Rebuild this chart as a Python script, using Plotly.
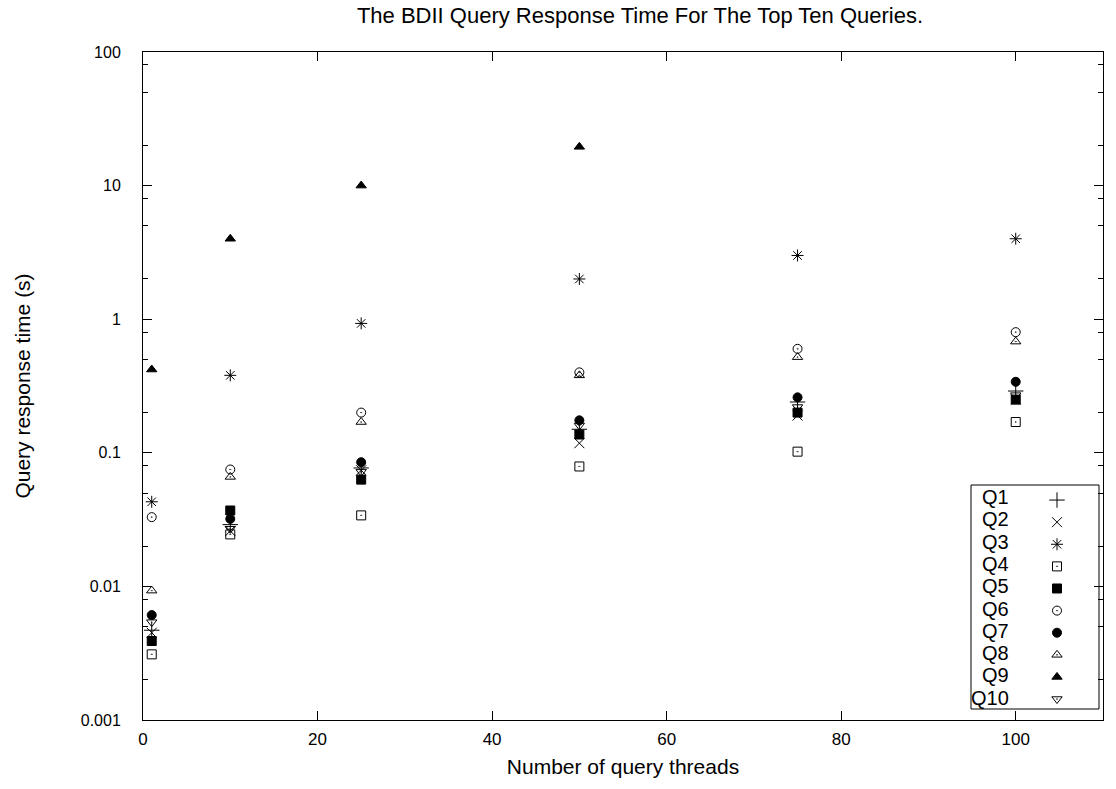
import plotly.graph_objects as go

threads = [1, 10, 25, 50, 75, 100]
q_names = ["Q1", "Q2", "Q3", "Q4", "Q5", "Q6", "Q7", "Q8", "Q9", "Q10"]
Q1 = [0.0047, 0.029, 0.077, 0.15, 0.24, 0.29]
Q2 = [0.0045, 0.026, 0.074, 0.118, 0.19, 0.25]
Q3 = [0.043, 0.38, 0.93, 2.0, 3.0, 4.0]
Q4 = [0.0031, 0.0245, 0.034, 0.079, 0.102, 0.17]
Q5 = [0.0039, 0.037, 0.063, 0.137, 0.2, 0.25]
Q6 = [0.033, 0.075, 0.2, 0.40, 0.6, 0.8]
Q7 = [0.0061, 0.032, 0.085, 0.175, 0.26, 0.34]
Q8 = [0.0093, 0.066, 0.17, 0.38, 0.52, 0.68]
Q9 = [0.42, 4.0, 10.0, 19.5, None, None]
Q10 = [0.0054, 0.027, 0.072, 0.16, 0.22, 0.27]
series = [Q1, Q2, Q3, Q4, Q5, Q6, Q7, Q8, Q9, Q10]

symbols = ["cross-thin-open", "x-thin-open", "asterisk-open", "square-open-dot",
           "square", "circle-open-dot", "circle", "triangle-up-open-dot",
           "triangle-up", "triangle-down-open-dot"]
sizes = [11, 10, 10, 9, 9, 9, 9, 9, 9, 9]

ytick_vals = [0.001, 0.01, 0.1, 1, 10, 100]
ytick_text = ["0.001", "0.01", "0.1", "1", "10", "100"]
xtick_vals = [0, 20, 40, 60, 80, 100]
minor_y = [m * 10.0 ** e for e in range(-3, 2) for m in (2, 5, 8)]

FONT = "Liberation Sans"
fig = go.Figure()
for name, vals, sym, sz in zip(q_names, series, symbols, sizes):
    fig.add_trace(go.Scatter(
        x=threads, y=vals, mode="markers", name=" ",
        hovertemplate=name + ": %{x}, %{y}<extra></extra>",
        marker=dict(symbol=sym, size=sz, color="black",
                    line=dict(color="black", width=1)),
    ))

# legend labels (text to the left of symbols, like the original)
L, R, T, B = 143, 1103, 52, 720
W, H = R - L, B - T
annos = []
for i, name in enumerate(q_names):
    ypix = 497 + i * 22.3
    annos.append(dict(text=name, xref="paper", yref="paper",
                      x=(1011 - L) / W, y=(B - ypix) / H,
                      xanchor="right", yanchor="middle", showarrow=False,
                      font=dict(family=FONT, size=20, color="black")))

fig.update_layout(
    width=1116, height=789,
    margin=dict(l=L, r=1116 - R, t=T, b=789 - B),
    paper_bgcolor="white", plot_bgcolor="white",
    font=dict(family=FONT, size=20, color="black"),
    title=dict(text="The BDII Query Response Time For The Top Ten Queries.",
               x=640 / 1116, xanchor="center", y=1 - 15 / 789, yanchor="middle",
               font=dict(family=FONT, size=22, color="black")),
    xaxis=dict(range=[0, 110], tickvals=xtick_vals, ticks="inside", ticklen=9,
               tickcolor="black", showline=True, linecolor="black", linewidth=1,
               mirror="ticks", showgrid=False, zeroline=False, ticklabelstandoff=4,
               tickfont=dict(family=FONT, size=17),
               title=dict(text="Number of query threads", standoff=10,
                          font=dict(family=FONT, size=21))),
    yaxis=dict(type="log", range=[-3, 2], tickvals=ytick_vals, ticktext=ytick_text,
               ticks="inside", ticklen=9, tickcolor="black", showline=True,
               linecolor="black", linewidth=1, mirror="ticks", showgrid=False,
               zeroline=False, ticklabelstandoff=18,
               tickfont=dict(family=FONT, size=16),
               minor=dict(tickvals=minor_y, ticks="inside", ticklen=5,
                          tickcolor="black", showgrid=False),
               title=dict(text="Query response time (s)", standoff=44,
                          font=dict(family=FONT, size=21))),
    showlegend=True,
    legend=dict(x=(1037 - L) / W, y=(B - 484) / H, xanchor="left", yanchor="top",
                bgcolor="rgba(0,0,0,0)", borderwidth=0, tracegroupgap=0,
                font=dict(family=FONT, size=14.7), itemwidth=30),
    shapes=[dict(type="rect", xref="paper", yref="paper",
                 x0=(971 - L) / W, x1=(1099 - L) / W,
                 y0=(B - 709) / H, y1=(B - 485) / H,
                 line=dict(color="black", width=1), fillcolor="rgba(0,0,0,0)")],
    annotations=annos,
)

fig.write_html("out.html")
